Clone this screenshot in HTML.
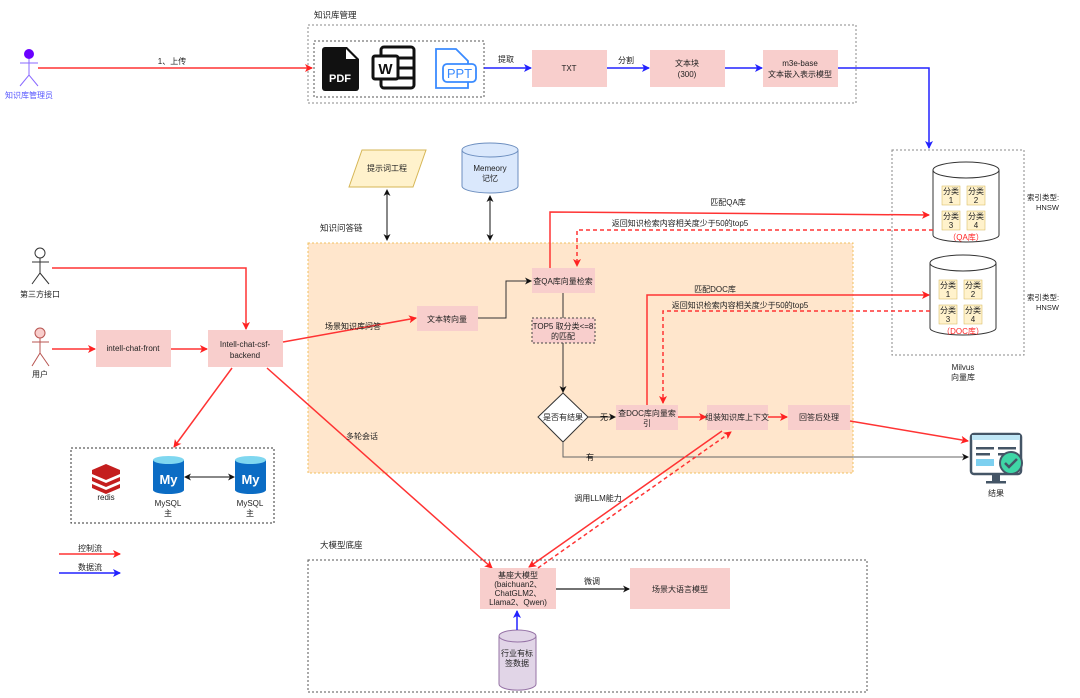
<!DOCTYPE html>
<html><head><meta charset="utf-8"><style>
body{margin:0;background:#fff}
svg{display:block;font-family:"Liberation Sans","Noto Sans CJK SC",sans-serif}
text{font-size:8px;fill:#222}
.c{text-anchor:middle}
</style></head><body>
<svg width="1080" height="698" viewBox="0 0 1080 698">
<defs>
<marker id="ar" markerWidth="8" markerHeight="8" refX="7" refY="4" orient="auto" markerUnits="userSpaceOnUse"><path d="M0,0 L8,4 L0,8 L2,4z" fill="#f22"/></marker>
<marker id="ab" markerWidth="8" markerHeight="8" refX="7" refY="4" orient="auto" markerUnits="userSpaceOnUse"><path d="M0,0 L8,4 L0,8 L2,4z" fill="#22f"/></marker>
<marker id="ak" markerWidth="7" markerHeight="7" refX="6" refY="3.5" orient="auto" markerUnits="userSpaceOnUse"><path d="M0,0 L7,3.5 L0,7 L2,3.5z" fill="#111"/></marker>
<marker id="aks" markerWidth="7" markerHeight="7" refX="1" refY="3.5" orient="auto" markerUnits="userSpaceOnUse"><path d="M7,0 L0,3.5 L7,7 L5,3.5z" fill="#111"/></marker>
</defs>

<text x="314" y="18" style="font-size:8.5px">知识库管理</text>
<rect x="308" y="25" width="548" height="78" fill="none" stroke="#888" stroke-dasharray="2,2"/>
<rect x="314" y="41" width="170" height="56" fill="none" stroke="#555" stroke-dasharray="2,2"/>
<path d="M325,47 h22 l12,12 v29 a3,3 0 0 1 -3,3 h-31 a3,3 0 0 1 -3,-3 v-38 a3,3 0 0 1 3,-3z" fill="#111"/>
<path d="M346,49 v10 h10z" fill="#fff"/>
<text x="340" y="82" class="c" style="font-size:11px;fill:#fff;font-weight:bold">PDF</text>
<rect x="381" y="47" width="33" height="41" rx="3" fill="none" stroke="#111" stroke-width="3"/>
<line x1="398" y1="58" x2="414" y2="58" stroke="#111" stroke-width="3"/><line x1="398" y1="68" x2="414" y2="68" stroke="#111" stroke-width="3"/><line x1="398" y1="78" x2="414" y2="78" stroke="#111" stroke-width="3"/>
<rect x="373" y="56" width="25" height="23" rx="2" fill="#fff" stroke="#111" stroke-width="3"/>
<text x="385.5" y="74" class="c" style="font-size:15px;font-weight:bold;fill:#111">W</text>
<path d="M436,49 h20 l12,12 v27 h-32z" fill="none" stroke="#3a8bff" stroke-width="1.8"/>
<rect x="443" y="64" width="33" height="18" rx="4" fill="#fff" stroke="#3a8bff" stroke-width="1.8"/>
<text x="459.5" y="78" class="c" style="font-size:13px;fill:#3a8bff">PPT</text>

<circle cx="29" cy="54" r="5" fill="#6a00ff"/>
<line x1="29" y1="59" x2="29" y2="75" stroke="#8a6aff"/><line x1="20" y1="63" x2="38" y2="63" stroke="#8a6aff"/>
<path d="M20,86 L29,75 L38,86" fill="none" stroke="#8a6aff"/>
<text x="29" y="98" class="c" style="fill:#55f">知识库管理员</text>
<line x1="38" y1="68" x2="312" y2="68" stroke="#f33" stroke-width="1.5" marker-end="url(#ar)"/>
<text x="172" y="64" class="c">1、上传</text>

<line x1="484" y1="68" x2="531" y2="68" stroke="#22f" stroke-width="1.5" marker-end="url(#ab)"/>
<text x="506" y="62" class="c">提取</text>
<rect x="532" y="50" width="75" height="37" fill="#f8cecc"/><text x="569" y="71" class="c">TXT</text>
<line x1="607" y1="68" x2="649" y2="68" stroke="#22f" stroke-width="1.5" marker-end="url(#ab)"/>
<text x="626" y="63" class="c">分割</text>
<rect x="650" y="50" width="75" height="37" fill="#f8cecc"/><text x="687" y="66" class="c">文本块</text><text x="687" y="77" class="c">(300)</text>
<line x1="725" y1="68" x2="762" y2="68" stroke="#22f" stroke-width="1.5" marker-end="url(#ab)"/>
<rect x="763" y="50" width="75" height="37" fill="#f8cecc"/><text x="800" y="66" class="c">m3e-base</text><text x="800" y="77" class="c">文本嵌入表示模型</text>
<path d="M838,68 H929 V148" fill="none" stroke="#22f" stroke-width="1.5" marker-end="url(#ab)"/>

<rect x="892" y="150" width="132" height="205" fill="none" stroke="#888" stroke-dasharray="2,2"/>
<text x="963" y="370" class="c">Milvus</text><text x="963" y="380" class="c">向量库</text>
<g>
<path d="M933,170 V235 A33,7 0 0 0 999,235 V170" fill="#fff" stroke="#333"/>
<ellipse cx="966" cy="170" rx="33" ry="8" fill="#fff" stroke="#333"/>
<rect x="942" y="186" width="18" height="19" fill="#fff2cc" stroke="#d6b656" stroke-width=".5"/><text x="951" y="194" class="c">分类</text><text x="951" y="203" class="c">1</text>
<rect x="967" y="186" width="18" height="19" fill="#fff2cc" stroke="#d6b656" stroke-width=".5"/><text x="976" y="194" class="c">分类</text><text x="976" y="203" class="c">2</text>
<rect x="942" y="211" width="18" height="19" fill="#fff2cc" stroke="#d6b656" stroke-width=".5"/><text x="951" y="219" class="c">分类</text><text x="951" y="228" class="c">3</text>
<rect x="967" y="211" width="18" height="19" fill="#fff2cc" stroke="#d6b656" stroke-width=".5"/><text x="976" y="219" class="c">分类</text><text x="976" y="228" class="c">4</text>
<text x="966" y="240" class="c" style="fill:#f22">（QA库）</text>
</g>
<g>
<path d="M930,263 V328 A33,7 0 0 0 996,328 V263" fill="#fff" stroke="#333"/>
<ellipse cx="963" cy="263" rx="33" ry="8" fill="#fff" stroke="#333"/>
<rect x="939" y="280" width="18" height="19" fill="#fff2cc" stroke="#d6b656" stroke-width=".5"/><text x="948" y="288" class="c">分类</text><text x="948" y="297" class="c">1</text>
<rect x="964" y="280" width="18" height="19" fill="#fff2cc" stroke="#d6b656" stroke-width=".5"/><text x="973" y="288" class="c">分类</text><text x="973" y="297" class="c">2</text>
<rect x="939" y="305" width="18" height="19" fill="#fff2cc" stroke="#d6b656" stroke-width=".5"/><text x="948" y="313" class="c">分类</text><text x="948" y="322" class="c">3</text>
<rect x="964" y="305" width="18" height="19" fill="#fff2cc" stroke="#d6b656" stroke-width=".5"/><text x="973" y="313" class="c">分类</text><text x="973" y="322" class="c">4</text>
<text x="963" y="334" class="c" style="fill:#f22">（DOC库）</text>
</g>
<text x="1027" y="200" style="font-size:7.5px">索引类型:</text><text x="1036" y="210" style="font-size:7.5px">HNSW</text>
<text x="1027" y="300" style="font-size:7.5px">索引类型:</text><text x="1036" y="310" style="font-size:7.5px">HNSW</text>

<path d="M362,150 H426 L413,187 H349z" fill="#fff2cc" stroke="#d6b656"/>
<text x="387" y="171" class="c">提示词工程</text>
<path d="M462,150 V186 A28,7 0 0 0 518,186 V150" fill="#dae8fc" stroke="#6c8ebf"/>
<ellipse cx="490" cy="150" rx="28" ry="7" fill="#dae8fc" stroke="#6c8ebf"/>
<text x="490" y="171" class="c">Memeory</text><text x="490" y="181" class="c">记忆</text>
<line x1="387" y1="190" x2="387" y2="240" stroke="#111" marker-start="url(#aks)" marker-end="url(#ak)"/>
<line x1="490" y1="196" x2="490" y2="240" stroke="#111" marker-start="url(#aks)" marker-end="url(#ak)"/>
<text x="320" y="231" style="font-size:8.5px">知识问答链</text>

<rect x="308" y="243" width="545" height="230" fill="#ffe6cc" stroke="#f0c060" stroke-dasharray="2,2"/>
<rect x="532" y="268" width="63" height="25" fill="#f8cecc"/><text x="563" y="284" class="c">查QA库向量检索</text>
<rect x="417" y="306" width="61" height="25" fill="#f8cecc"/><text x="447" y="322" class="c">文本转向量</text>
<path d="M478,318 H506 V281 H531" fill="none" stroke="#333" marker-end="url(#ak)"/>
<line x1="563" y1="293" x2="563" y2="318" stroke="#333"/>
<rect x="532" y="318" width="63" height="25" fill="#f8cecc" stroke="#444" stroke-dasharray="2,2"/>
<text x="563" y="329" class="c">TOP5 取分类&lt;=8</text><text x="563" y="339" class="c">的匹配</text>
<line x1="563" y1="343" x2="563" y2="392" stroke="#333" marker-end="url(#ak)"/>
<path d="M563,393 L588,417 L563,442 L538,417z" fill="#fff" stroke="#333"/>
<text x="563" y="420" class="c">是否有结果</text>
<line x1="588" y1="417" x2="615" y2="417" stroke="#333" marker-end="url(#ak)"/>
<text x="604" y="420" class="c" style="fill:#111">无</text>
<rect x="616" y="405" width="62" height="25" fill="#f8cecc"/><text x="647" y="416" class="c">查DOC库向量索</text><text x="647" y="426" class="c">引</text>
<line x1="678" y1="417" x2="706" y2="417" stroke="#f33" stroke-width="1.5" marker-end="url(#ar)"/>
<rect x="707" y="405" width="61" height="25" fill="#f8cecc"/><text x="737" y="420" class="c">组装知识库上下文</text>
<line x1="768" y1="417" x2="787" y2="417" stroke="#f33" stroke-width="1.5" marker-end="url(#ar)"/>
<rect x="788" y="405" width="62" height="25" fill="#f8cecc"/><text x="819" y="420" class="c">回答后处理</text>
<path d="M563,442 V457 H968" fill="none" stroke="#666" marker-end="url(#ak)"/>
<text x="590" y="460" class="c" style="fill:#111">有</text>
<line x1="850" y1="421" x2="968" y2="441" stroke="#f33" stroke-width="1.5" marker-end="url(#ar)"/>

<path d="M550,268 V212 L929,215" fill="none" stroke="#f33" stroke-width="1.5" marker-end="url(#ar)"/>
<text x="728" y="205" class="c">匹配QA库</text>
<path d="M933,230 H577 V266" fill="none" stroke="#f33" stroke-width="1.5" stroke-dasharray="4,3" marker-end="url(#ar)"/>
<text x="680" y="226" class="c">返回知识检索内容相关度少于50的top5</text>
<path d="M647,405 V295 H929" fill="none" stroke="#f33" stroke-width="1.5" marker-end="url(#ar)"/>
<text x="715" y="292" class="c">匹配DOC库</text>
<path d="M930,311 H663 V403" fill="none" stroke="#f33" stroke-width="1.5" stroke-dasharray="4,3" marker-end="url(#ar)"/>
<text x="740" y="308" class="c">返回知识检索内容相关度少于50的top5</text>

<g>
<rect x="971" y="434" width="50" height="40" rx="3" fill="#fff" stroke="#456" stroke-width="2.5"/>
<rect x="972" y="435" width="48" height="5" fill="#bfe6f5"/>
<rect x="976" y="447" width="18" height="2.5" fill="#456"/><rect x="998" y="447" width="18" height="2.5" fill="#456"/>
<rect x="976" y="453" width="14" height="2.5" fill="#456"/><rect x="998" y="453" width="18" height="2.5" fill="#456"/>
<rect x="976" y="459" width="18" height="7" fill="#7dd0f0"/>
<rect x="992" y="474" width="8" height="7" fill="#456"/><rect x="986" y="481" width="20" height="2.5" fill="#456"/>
<circle cx="1011" cy="463" r="11" fill="#3fd6a6" stroke="#456" stroke-width="2"/>
<path d="M1005,463 l4,4 l8,-8" fill="none" stroke="#456" stroke-width="2.5"/>
</g>
<text x="996" y="496" class="c">结果</text>

<circle cx="40" cy="253" r="5" fill="#fff" stroke="#333"/>
<line x1="40" y1="258" x2="40" y2="273" stroke="#333"/><line x1="32" y1="262" x2="49" y2="262" stroke="#333"/>
<path d="M32,284 L40,273 L49,284" fill="none" stroke="#333"/>
<text x="40" y="297" class="c">第三方接口</text>
<path d="M52,268 H246 V329" fill="none" stroke="#f33" stroke-width="1.5" marker-end="url(#ar)"/>
<circle cx="40" cy="333" r="5" fill="#f8cecc" stroke="#b85450"/>
<line x1="40" y1="338" x2="40" y2="353" stroke="#b85450"/><line x1="32" y1="342" x2="49" y2="342" stroke="#b85450"/>
<path d="M32,366 L40,353 L49,366" fill="none" stroke="#b85450"/>
<text x="40" y="377" class="c">用户</text>
<line x1="52" y1="349" x2="95" y2="349" stroke="#f33" stroke-width="1.5" marker-end="url(#ar)"/>
<rect x="96" y="330" width="75" height="37" fill="#f8cecc"/><text x="133" y="351" class="c">intell-chat-front</text>
<line x1="171" y1="349" x2="207" y2="349" stroke="#f33" stroke-width="1.5" marker-end="url(#ar)"/>
<rect x="208" y="330" width="75" height="37" fill="#f8cecc"/><text x="245" y="347" class="c">Intell-chat-csf-</text><text x="245" y="358" class="c">backend</text>
<line x1="283" y1="342" x2="416" y2="318" stroke="#f33" stroke-width="1.5" marker-end="url(#ar)"/>
<text x="353" y="329" class="c" style="fill:#111">场景知识库问答</text>
<line x1="232" y1="368" x2="174" y2="447" stroke="#f33" stroke-width="1.5" marker-end="url(#ar)"/>
<line x1="267" y1="368" x2="492" y2="568" stroke="#f33" stroke-width="1.5" marker-end="url(#ar)"/>
<text x="362" y="439" class="c">多轮会话</text>

<rect x="71" y="448" width="203" height="75" fill="none" stroke="#333" stroke-dasharray="2,2"/>
<g fill="#c41e1e">
<path d="M92,470 l14,-6 l14,6 v4 l-14,6 l-14,-6z"/>
<path d="M92,477 l14,6 l14,-6 v4 l-14,6 l-14,-6z"/>
<path d="M92,484 l14,6 l14,-6 v4 l-14,6 l-14,-6z"/>
</g>
<text x="106" y="500" class="c">redis</text>
<g>
<rect x="153" y="460" width="31" height="30" fill="#0b6cc4"/><ellipse cx="168.5" cy="460" rx="15.5" ry="4" fill="#7fd7f0"/><ellipse cx="168.5" cy="490" rx="15.5" ry="4" fill="#0b6cc4"/>
<text x="168.5" y="484" class="c" style="font-size:13px;font-weight:bold;fill:#fff">My</text>
<rect x="235" y="460" width="31" height="30" fill="#0b6cc4"/><ellipse cx="250.5" cy="460" rx="15.5" ry="4" fill="#7fd7f0"/><ellipse cx="250.5" cy="490" rx="15.5" ry="4" fill="#0b6cc4"/>
<text x="250.5" y="484" class="c" style="font-size:13px;font-weight:bold;fill:#fff">My</text>
</g>
<line x1="185" y1="477" x2="234" y2="477" stroke="#111" marker-start="url(#aks)" marker-end="url(#ak)"/>
<text x="168" y="506" class="c">MySQL</text><text x="168" y="516" class="c">主</text>
<text x="250" y="506" class="c">MySQL</text><text x="250" y="516" class="c">主</text>

<line x1="59" y1="554" x2="120" y2="554" stroke="#f33" stroke-width="1.5" marker-end="url(#ar)"/><text x="90" y="551" class="c">控制流</text>
<line x1="59" y1="573" x2="120" y2="573" stroke="#22f" stroke-width="1.5" marker-end="url(#ab)"/><text x="90" y="570" class="c">数据流</text>

<text x="320" y="548" style="font-size:8.5px">大模型底座</text>
<rect x="308" y="560" width="559" height="132" fill="none" stroke="#555" stroke-dasharray="2,2"/>
<rect x="480" y="568" width="76" height="41" fill="#f8cecc"/>
<text x="518" y="578" class="c">基座大模型</text><text x="518" y="587" class="c">(baichuan2、</text><text x="518" y="596" class="c">ChatGLM2、</text><text x="518" y="605" class="c">Llama2、Qwen)</text>
<line x1="556" y1="589" x2="629" y2="589" stroke="#444" stroke-width="1.5" marker-end="url(#ak)"/>
<text x="592" y="584" class="c">微调</text>
<rect x="630" y="568" width="100" height="41" fill="#f8cecc"/><text x="680" y="592" class="c">场景大语言模型</text>
<path d="M499,636 V684 A18,6 0 0 0 536,684 V636" fill="#e1d5e7" stroke="#9673a6"/>
<ellipse cx="517.5" cy="636" rx="18.5" ry="6" fill="#e1d5e7" stroke="#9673a6"/>
<text x="517" y="656" class="c">行业有标</text><text x="517" y="666" class="c">签数据</text>
<line x1="517" y1="630" x2="517" y2="611" stroke="#22f" stroke-width="1.5" marker-end="url(#ab)"/>
<line x1="722" y1="431" x2="529" y2="567" stroke="#f33" stroke-width="1.5" marker-end="url(#ar)"/>
<line x1="538" y1="568" x2="731" y2="432" stroke="#f33" stroke-width="1.5" stroke-dasharray="4,3" marker-end="url(#ar)"/>
<text x="598" y="501" class="c">调用LLM能力</text>
</svg>
</body></html>
